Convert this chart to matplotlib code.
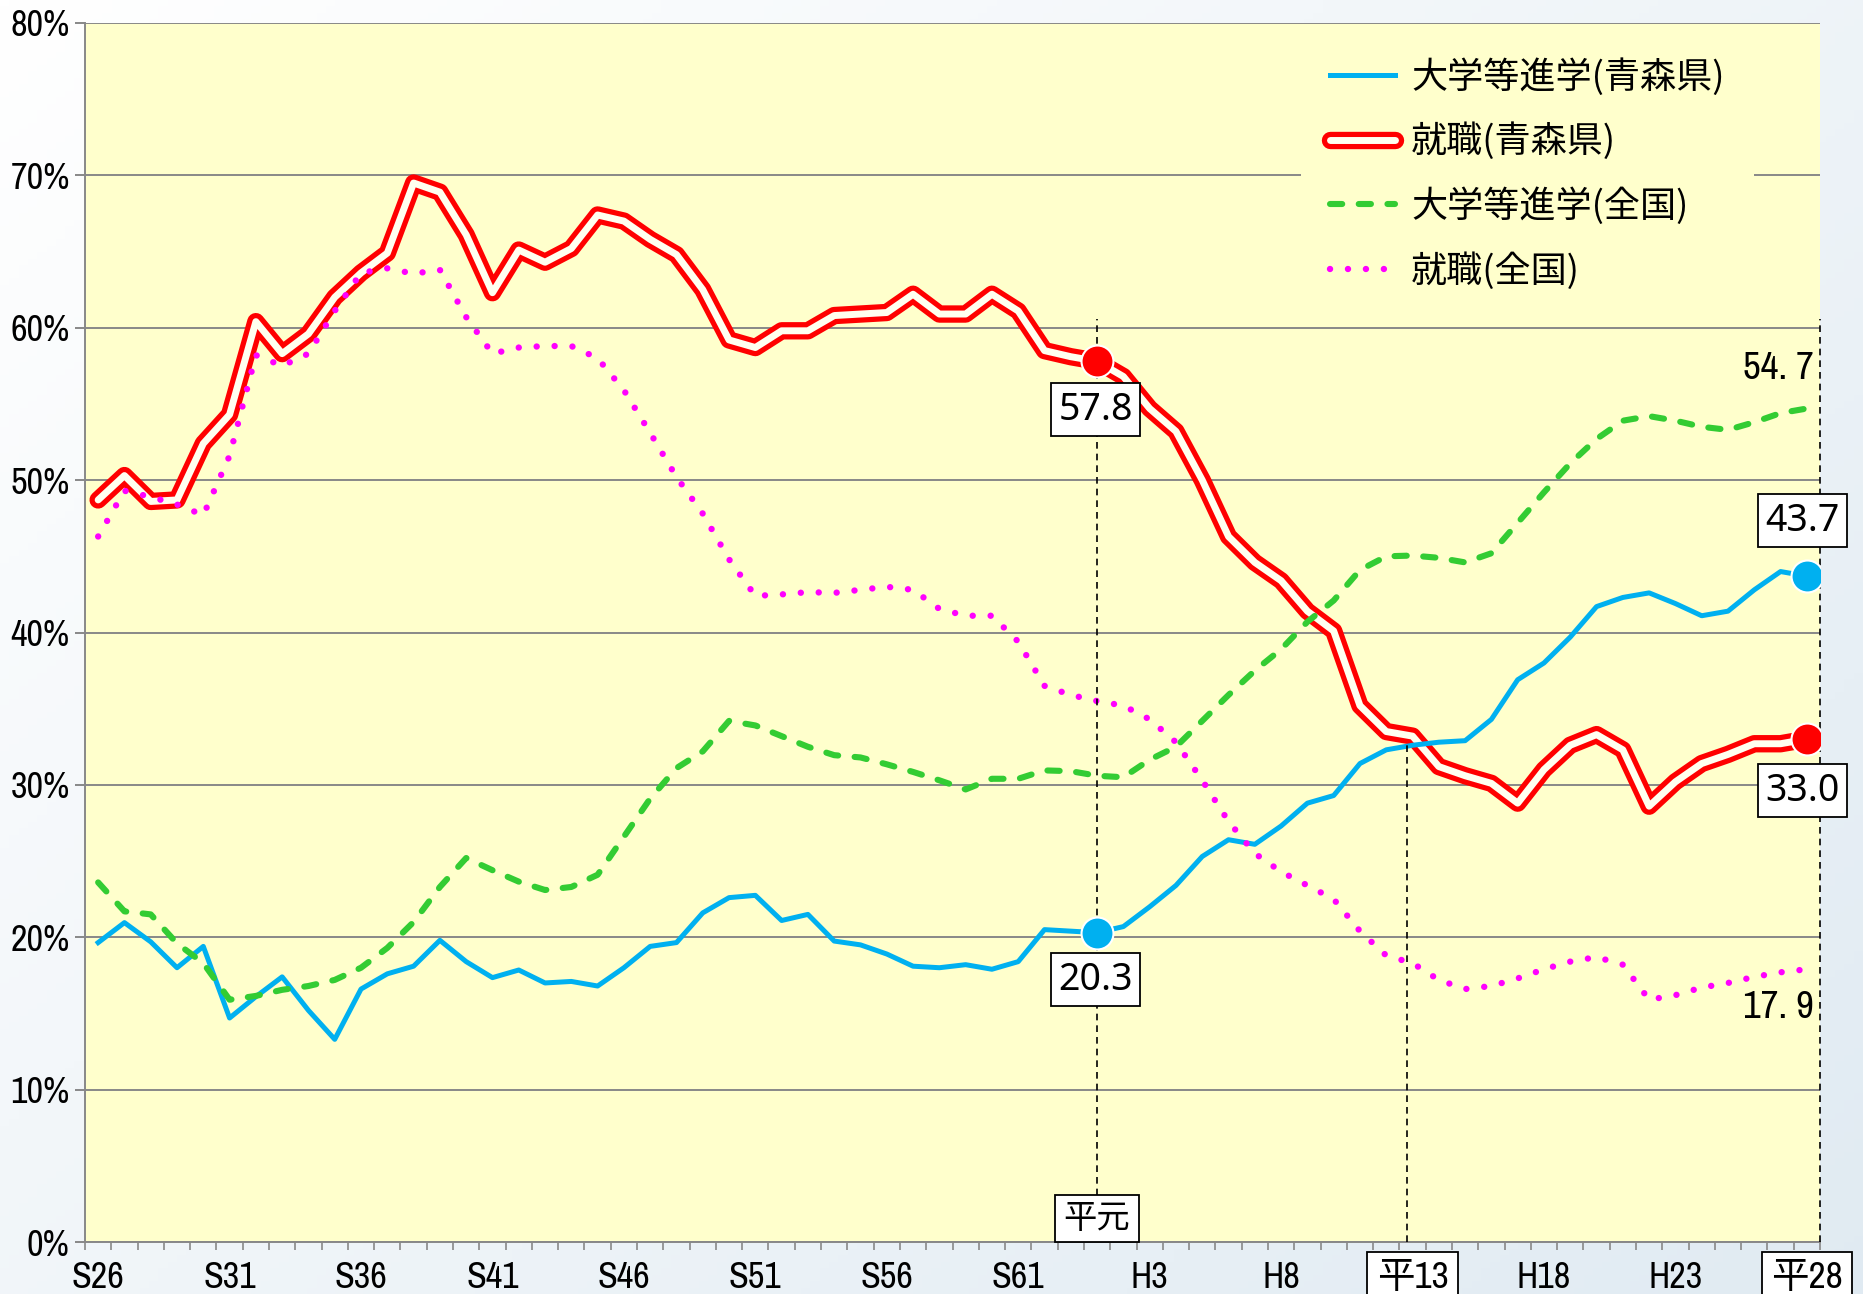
import numpy as np
import matplotlib
matplotlib.use("Agg")
import matplotlib.pyplot as plt
import matplotlib.patheffects as pe
from matplotlib import font_manager as fm

# --- data (percent), S26 (1951) .. H28 (2016) ---
aomori_univ = [19.65, 20.96, 19.7, 18.0, 19.4, 14.7, 16.1, 17.4, 15.2, 13.3,
               16.6, 17.6, 18.1, 19.8, 18.4, 17.35, 17.85, 17.0, 17.1, 16.8,
               18.0, 19.4, 19.65, 21.6, 22.6, 22.75, 21.1, 21.5, 19.75, 19.5,
               18.9, 18.1, 18.0, 18.2, 17.9, 18.4, 20.5, 20.4, 20.3, 20.7,
               22.0, 23.4, 25.3, 26.4, 26.1, 27.3, 28.8, 29.3, 31.4, 32.3,
               32.6, 32.8, 32.9, 34.3, 36.9, 38.0, 39.7, 41.7, 42.3, 42.6,
               41.9, 41.1, 41.4, 42.8, 44.0, 43.7]
aomori_job = [48.7, 50.3, 48.6, 48.7, 52.4, 54.3, 60.4, 58.3, 59.6, 62.0,
              63.6, 64.9, 69.5, 68.9, 66.1, 62.3, 65.1, 64.3, 65.2, 67.4,
              67.0, 65.8, 64.8, 62.5, 59.2, 58.7, 59.8, 59.8, 60.8, 60.9,
              61.0, 62.2, 60.9, 60.9, 62.2, 61.1, 58.5, 58.1, 57.8, 56.8,
              54.7, 53.2, 50.0, 46.3, 44.6, 43.4, 41.4, 40.1, 35.2, 33.5,
              33.2, 31.2, 30.6, 30.1, 28.8, 31.0, 32.6, 33.3, 32.3, 28.6,
              30.2, 31.4, 32.0, 32.7, 32.7, 33.0]
national_univ = [23.6, 21.7, 21.5, 19.6, 18.3, 15.9, 16.15, 16.55, 16.8, 17.2,
                 18.0, 19.3, 21.0, 23.3, 25.2, 24.4, 23.65, 23.1, 23.3, 24.1,
                 26.6, 29.1, 31.1, 32.2, 34.2, 33.9, 33.2, 32.5, 31.95, 31.8,
                 31.35, 30.85, 30.3, 29.7, 30.4, 30.4, 30.95, 30.9, 30.6, 30.5,
                 31.65, 32.5, 34.2, 35.9, 37.5, 38.9, 40.7, 42.1, 44.1, 45.0,
                 45.05, 44.9, 44.6, 45.2, 47.2, 49.2, 51.1, 52.7, 53.9, 54.2,
                 53.9, 53.5, 53.3, 53.8, 54.4, 54.7]
national_job = [46.3, 49.3, 48.9, 48.4, 47.7, 51.6, 58.2, 57.5, 58.3, 61.1,
                63.6, 63.9, 63.55, 63.8, 60.7, 58.3, 58.7, 58.8, 58.8, 58.0,
                55.9, 53.1, 50.2, 47.8, 44.8, 42.4, 42.5, 42.65, 42.6, 42.8,
                43.0, 42.8, 41.55, 41.1, 41.1, 39.4, 36.5, 35.9, 35.5, 35.2,
                34.3, 32.8, 30.3, 27.6, 25.5, 24.3, 23.4, 22.5, 20.4, 18.8,
                18.3, 17.2, 16.6, 16.8, 17.3, 17.9, 18.4, 18.7, 18.2, 15.9,
                16.2, 16.7, 17.0, 17.4, 17.7, 17.9]

tick_pos = [0, 5, 10, 15, 20, 25, 30, 35, 40, 45, 50, 55, 60, 65]
tick_labels = ["S26", "S31", "S36", "S41", "S46", "S51", "S56", "S61",
               "H3", "H8", "平13", "H18", "H23", "平28"]
labels = ["大学等進学(青森県)", "就職(青森県)", "大学等進学(全国)", "就職(全国)"]

H1, H13, H28 = 38, 50, 65

# prefer a narrow latin face if one is installed
names = sorted({f.name for f in fm.fontManager.ttflist})
narrow = next((n for n in names if "Narrow" in n or
               ("Condensed" in n and "DejaVu" not in n)), "Liberation Sans")
plt.rcParams["font.family"] = [narrow, "Noto Sans CJK JP", "DejaVu Sans"]
jp = fm.FontProperties(family=["Noto Sans CJK JP"], size=26)

x = np.arange(len(aomori_job))

fig = plt.figure(figsize=(18.63, 12.94), dpi=100)

# soft background gradient
bg = fig.add_axes([0, 0, 1, 1], zorder=-10)
gx, gy = np.meshgrid(np.linspace(0, 1, 200), np.linspace(0, 1, 200))
g = np.clip(0.55 * gx + 0.45 * gy, 0, 1)
c0 = np.array([1.0, 1.0, 1.0])
c1 = np.array([0.88, 0.92, 0.95])
img = c0[None, None, :] * (1 - g[..., None]) + c1[None, None, :] * g[..., None]
bg.imshow(img, aspect="auto", extent=[0, 1, 0, 1])
bg.axis("off")

ax = fig.add_axes([85 / 1863, 1 - 1242 / 1294, (1820 - 85) / 1863, (1242 - 23) / 1294])
ax.set_facecolor("#FFFFCC")
ax.set_xlim(-0.5, 65.5)
ax.set_ylim(0, 80)

for s in ["top", "right"]:
    ax.spines[s].set_visible(False)
for s in ["left", "bottom"]:
    ax.spines[s].set_color("#888888")
    ax.spines[s].set_linewidth(1.4)

ax.set_yticks(np.arange(0, 81, 10))
ax.set_yticklabels([f"{v}%" for v in range(0, 81, 10)], fontsize=26)
ax.yaxis.grid(True, color="#888888", linewidth=1.4)
ax.set_axisbelow(True)
ax.tick_params(axis="y", length=7, width=1.4, color="#888888", pad=4)

ax.set_xticks(tick_pos)
ax.set_xticklabels(tick_labels, fontsize=26)
ax.set_xticks(np.arange(-0.5, 66, 1), minor=True)
ax.tick_params(axis="x", which="major", length=0, pad=14)
ax.tick_params(axis="x", which="minor", length=6, width=1.2, color="#888888")
for t in ax.get_xticklabels():
    if t.get_text().startswith("平"):
        t.set_fontsize(27)
        t.set_bbox(dict(boxstyle="square,pad=0.25", fc="white", ec="black", lw=1.3))

# series
ax.plot(x, aomori_job, color="#FFFFF0", lw=5, solid_joinstyle="round",
        solid_capstyle="round", zorder=3, label=labels[1],
        path_effects=[pe.Stroke(linewidth=12.5, foreground="#FF0000",
                                joinstyle="round", capstyle="round"), pe.Normal()])
ax.plot(x, aomori_univ, color="#00B0F0", lw=3.6, solid_joinstyle="round",
        zorder=4, label=labels[0])
ax.plot(x, national_univ, color="#33CC33", lw=4.4, linestyle=(0, (2.0, 2.7)),
        dash_capstyle="round", zorder=5, label=labels[2])
ax.plot(x, national_job, color="#FF00FF", lw=4.6, linestyle=(0, (0.01, 2.8)),
        dash_capstyle="round", zorder=5, label=labels[3])

# highlighted points
for i in (H1, H28):
    ax.plot(i, aomori_job[i], "o", ms=23, color="#FF0000", mec="white", mew=1.5, zorder=7)
    ax.plot(i, aomori_univ[i], "o", ms=23, color="#00B0F0", mec="white", mew=1.5, zorder=7)

# dashed guides
ax.plot([H1, H1], [0, 60.6], color="black", lw=1.2, ls=(0, (4, 3)), zorder=6)
ax.plot([H13 - 0.2, H13 - 0.2], [0, aomori_univ[H13]], color="black", lw=1.2, ls=(0, (4, 3)), zorder=6)
ax.plot([65.5, 65.5], [0, 60.6], color="black", lw=1.2, ls=(0, (4, 3)), zorder=6, clip_on=False)

box = dict(boxstyle="square,pad=0.2", fc="white", ec="black", lw=1.3)
num_font = dict(family=["Noto Sans"], fontsize=27)
ax.annotate(f"{aomori_job[H1]:.1f}", (H1, aomori_job[H1]), xytext=(-1, -35),
            textcoords="offset points", ha="center", va="center", bbox=box, zorder=8, **num_font)
ax.annotate(f"{aomori_univ[H1]:.1f}", (H1, aomori_univ[H1]), xytext=(-1, -34),
            textcoords="offset points", ha="center", va="center", bbox=box, zorder=8, **num_font)
ax.annotate(f"{aomori_univ[H28]:.1f}", (H28, aomori_univ[H28]), xytext=(-3, 40),
            textcoords="offset points", ha="center", va="center", bbox=box, zorder=8,
            annotation_clip=False, **num_font)
ax.annotate(f"{aomori_job[H28]:.1f}", (H28, aomori_job[H28]), xytext=(-3, -37),
            textcoords="offset points", ha="center", va="center", bbox=box, zorder=8,
            annotation_clip=False, **num_font)

ax.annotate(f"{national_univ[H28]:.1f}".replace(".", ". "), (H28, national_univ[H28]),
            xytext=(5, 16), textcoords="offset points", ha="right", va="bottom",
            fontsize=28, zorder=8)
ax.annotate(f"{national_job[H28]:.1f}".replace(".", ". "), (H28, national_job[H28]),
            xytext=(5, -15), textcoords="offset points", ha="right", va="top",
            fontsize=28, zorder=8)

ax.annotate("平元", (H1, 0), xytext=(0, 6), textcoords="offset points",
            ha="center", va="bottom", fontsize=24, zorder=8,
            bbox=dict(boxstyle="square,pad=0.25", fc="white", ec="black", lw=1.3))

handles, labs = ax.get_legend_handles_labels()
order = [1, 0, 2, 3]
leg = ax.legend([handles[k] for k in order], [labs[k] for k in order],
                loc="upper left", bbox_to_anchor=(1301 / 1863, 1 - 29 / 1294),
                bbox_transform=fig.transFigure, prop=jp, frameon=True,
                facecolor="#FFFFCC", edgecolor="none", framealpha=1,
                borderpad=0.8, borderaxespad=0, handlelength=1.8,
                handletextpad=0.45, labelspacing=0.75)
leg.get_frame().set_linewidth(0)

fig.savefig("out.png", dpi=100)
